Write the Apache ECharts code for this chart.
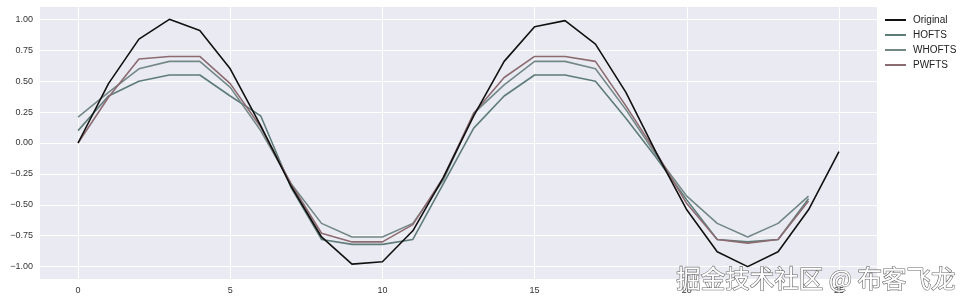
<!DOCTYPE html>
<html>
<head>
<meta charset="utf-8">
<script src="https://cdn.jsdelivr.net/npm/echarts@6/dist/echarts.min.js"></script>
<style>
html,body{margin:0;padding:0;background:#fff;}
#chart{width:968px;height:303px;}
</style>
</head>
<body>
<div id="chart"></div>
<script>
// x index 0..25
const xOriginal = [0,1,2,3,4,5,6,7,8,9,10,11,12,13,14,15,16,17,18,19,20,21,22,23,24,25];
const original = [0, 0.48, 0.84, 1.0, 0.91, 0.60, 0.14, -0.35, -0.76, -0.98, -0.96, -0.71, -0.28, 0.22, 0.66, 0.94, 0.99, 0.80, 0.41, -0.08, -0.54, -0.88, -1.0, -0.88, -0.54, -0.07];
const hofts = [0.10, 0.38, 0.50, 0.55, 0.55, 0.38, 0.22, -0.36, -0.78, -0.82, -0.82, -0.78, -0.33, 0.12, 0.38, 0.55, 0.55, 0.50, 0.20, -0.12, -0.46, -0.78, -0.80, -0.78, -0.45];
const whofts = [0.21, 0.41, 0.60, 0.66, 0.66, 0.45, 0.10, -0.33, -0.65, -0.76, -0.76, -0.65, -0.30, 0.24, 0.47, 0.66, 0.66, 0.60, 0.27, -0.10, -0.43, -0.65, -0.76, -0.65, -0.43];
const pwfts = [0, 0.37, 0.68, 0.70, 0.70, 0.48, 0.13, -0.33, -0.73, -0.80, -0.80, -0.66, -0.28, 0.24, 0.53, 0.70, 0.70, 0.66, 0.30, -0.08, -0.49, -0.78, -0.81, -0.78, -0.47];
const xTicks = [0, 5, 10, 15, 20, 25];
const yTicks = [-1.0, -0.75, -0.5, -0.25, 0, 0.25, 0.5, 0.75, 1.0];
const seriesNames = ['Original', 'HOFTS', 'WHOFTS', 'PWFTS'];
const watermark = '掘金技术社区 @ 布客飞龙';

function pairs(vals) { return vals.map((v, i) => [xOriginal[i], v]); }

const colors = ['#111111', '#5e7c79', '#738886', '#8c6b71'];
const chart = echarts.init(document.getElementById('chart'), null, {renderer: 'canvas'});
const fmtY = v => (v < 0 ? '\u2212' : '') + Math.abs(v).toFixed(2);

chart.setOption({
  animation: false,
  textStyle: {fontFamily: 'Liberation Sans, Arial, sans-serif'},
  grid: {left: 40, top: 7, width: 837, height: 272, show: true, backgroundColor: '#eaeaf2', borderWidth: 0},
  xAxis: {
    type: 'value', min: -1.25, max: 26.25,
    axisLine: {show: false}, axisTick: {show: false, customValues: xTicks},
    axisLabel: {customValues: xTicks, color: '#333', fontSize: 9, margin: 7},
    splitLine: {show: true, lineStyle: {color: '#ffffff', width: 1}}
  },
  yAxis: {
    type: 'value', min: -1.1, max: 1.1,
    axisLine: {show: false}, axisTick: {show: false, customValues: yTicks},
    axisLabel: {customValues: yTicks, color: '#333', fontSize: 9, margin: 7, formatter: fmtY},
    splitLine: {show: true, lineStyle: {color: '#ffffff', width: 1}}
  },
  legend: {
    orient: 'vertical', left: 885, top: 15, itemWidth: 21, itemHeight: 2, itemGap: 5,
    icon: 'rect', padding: 0,
    data: seriesNames,
    textStyle: {fontSize: 10, color: '#222', padding: [0, 0, 0, 2]}
  },
  series: [
    {name: seriesNames[0], type: 'line', data: pairs(original), symbol: 'none', lineStyle: {color: colors[0], width: 1.6}, itemStyle: {color: colors[0]}, z: 5},
    {name: seriesNames[1], type: 'line', data: pairs(hofts), symbol: 'none', lineStyle: {color: colors[1], width: 1.6}, itemStyle: {color: colors[1]}, z: 3},
    {name: seriesNames[2], type: 'line', data: pairs(whofts), symbol: 'none', lineStyle: {color: colors[2], width: 1.6}, itemStyle: {color: colors[2]}, z: 3},
    {name: seriesNames[3], type: 'line', data: pairs(pwfts), symbol: 'none', lineStyle: {color: colors[3], width: 1.6}, itemStyle: {color: colors[3]}, z: 4}
  ],
  graphic: [{
    type: 'text', right: 12, top: 266, z: 100,
    style: {
      text: watermark, fontSize: 24.5, fontFamily: 'Noto Sans CJK SC',
      fill: '#ffffff', stroke: '#6a6a6a', lineWidth: 1.2
    }
  }]
});
</script>
</body>
</html>
